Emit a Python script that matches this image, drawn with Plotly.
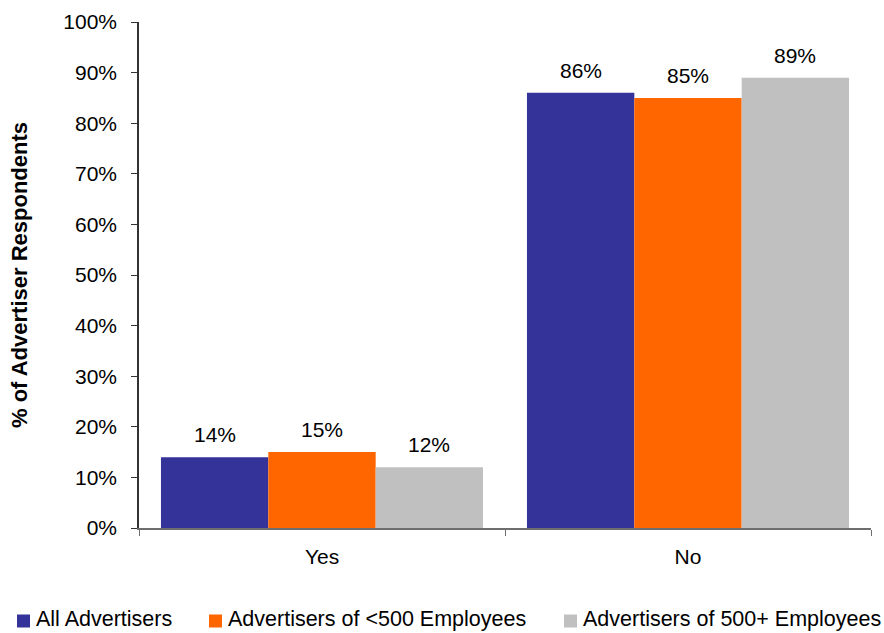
import plotly.graph_objects as go

# Survey responses by advertiser size
categories = ["Yes", "No"]
series_names = [
    "All Advertisers",
    "Advertisers of <500 Employees",
    "Advertisers of 500+ Employees",
]
all_advertisers = [0.14, 0.86]
under_500 = [0.15, 0.85]
over_500 = [0.12, 0.89]
series_values = [all_advertisers, under_500, over_500]
series_colors = ["#333399", "#FF6600", "#C0C0C0"]
y_ticks = [i / 10 for i in range(11)]
y_tick_labels = [f"{int(round(v * 100))}%" for v in y_ticks]

FONT = "Liberation Sans, Arial, Helvetica, sans-serif"
W, H = 884, 633
M_L, M_R, M_T, M_B = 139, 13, 22, 105
BARGAP = 0.12
plot_w = W - M_L - M_R
plot_h = H - M_T - M_B

fig = go.Figure()
for name, vals, color in zip(series_names, series_values, series_colors):
    fig.add_trace(go.Bar(
        x=categories, y=vals, name=name,
        marker=dict(color=color, line=dict(width=0)),
        hoverinfo="x+y+name",
    ))

# value labels above each bar, offset to the bar's slot in the group
cat_w = plot_w / len(categories)
bar_w = cat_w * (1 - BARGAP) / len(series_values)
n = len(series_values)
for s, vals in enumerate(series_values):
    shift = (s - (n - 1) / 2) * bar_w
    for c, v in zip(categories, vals):
        fig.add_annotation(
            x=c, y=v, text=f"{int(round(v * 100))}%",
            xshift=shift, yshift=9, yanchor="bottom",
            showarrow=False, font=dict(size=21, color="#000000", family=FONT),
        )


# legend row along the bottom: a colour swatch followed by the series name
def px_x(px):
    return (px - M_L) / plot_w


def px_y(py):
    return (H - M_B - py) / plot_h


legend_left_px = [17, 209, 564]
swatch = 13
legend_mid_py = 619
for name, color, left in zip(series_names, series_colors, legend_left_px):
    fig.add_shape(
        type="rect", xref="paper", yref="paper",
        x0=px_x(left), x1=px_x(left + swatch),
        y0=px_y(legend_mid_py + swatch / 2 + 2), y1=px_y(legend_mid_py - swatch / 2 + 2),
        fillcolor=color, line=dict(width=0),
    )
    fig.add_annotation(
        xref="paper", yref="paper", x=px_x(left + swatch + 5), y=px_y(legend_mid_py),
        text=name, showarrow=False, xanchor="left", yanchor="middle",
        font=dict(size=21.5, family=FONT, color="#000000"), borderpad=0,
    )

fig.update_layout(
    width=W, height=H,
    margin=dict(l=M_L, r=M_R, t=M_T, b=M_B, autoexpand=False),
    paper_bgcolor="white", plot_bgcolor="white",
    barmode="group", bargap=BARGAP, bargroupgap=0,
    font=dict(family=FONT, size=21, color="#000000"),
    showlegend=False,
)
fig.update_xaxes(
    type="category", showgrid=False, zeroline=False,
    showline=True, linecolor="#6e6e6e", linewidth=1.5,
    ticks="outside", tickson="boundaries", ticklen=6, tickcolor="#6e6e6e",
    tickfont=dict(size=21), ticklabelstandoff=9,
)
fig.update_yaxes(
    range=[0, 1], tickvals=y_ticks, ticktext=y_tick_labels,
    showgrid=False, zeroline=False,
    showline=True, linecolor="#333333", linewidth=1.5,
    ticks="outside", ticklen=6, tickcolor="#333333",
    tickfont=dict(size=21), ticklabelstandoff=10,
    title=dict(text="<b>% of Advertiser Respondents</b>",
               font=dict(size=22, family=FONT), standoff=30),
)

fig.write_html("out.html")
